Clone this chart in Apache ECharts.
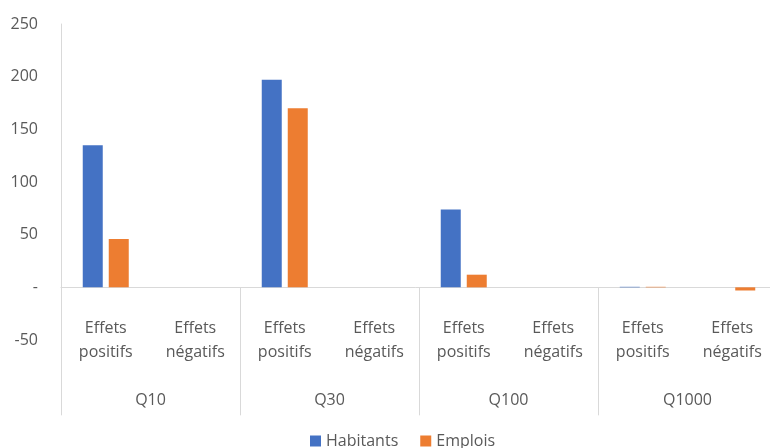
<!DOCTYPE html>
<html>
<head>
<meta charset="utf-8">
<script src="https://cdn.jsdelivr.net/npm/echarts@6/dist/echarts.min.js"></script>
<style>
  html, body { margin: 0; padding: 0; background: #ffffff; }
  #chart { width: 770px; height: 448px; }
</style>
</head>
<body>
<div id="chart"></div>
<script>
// Groupes de scénarios et sous-catégories d'effets
const groups = ['Q10', 'Q30', 'Q100', 'Q1000'];
const effects = ['Effets\npositifs', 'Effets\nnégatifs'];
const categories = groups.flatMap(g => effects.map(e => g + '|' + e));

// Valeurs par série (positifs / négatifs pour chaque groupe)
const habitants = [135, 0, 197, 0, 74, 0, 0.5, 0];
const emplois   = [46, 0, 170, 0, 12, 0, 0.5, -3];

// Graduations de l'axe vertical
const yMin = -50, yMax = 250, yStep = 50;

const font = '"Open Sans", Lato, sans-serif';
const textColor = '#595959';
const lineColor = '#d9d9d9';

// Zone de tracé
const gridLeft = 61, gridTop = 24, gridWidth = 716, gridHeight = 316;
// Les axes des catégories passent par la valeur 0 : décalage depuis le bas de la zone
const zeroShift = -gridHeight * (0 - yMin) / (yMax - yMin);

const chart = echarts.init(document.getElementById('chart'), null, { renderer: 'canvas' });

chart.setOption({
  animation: false,
  backgroundColor: '#ffffff',
  textStyle: { fontFamily: font },
  grid: {
    left: gridLeft, top: gridTop, width: gridWidth, height: gridHeight,
    containLabel: false, outerBoundsMode: 'none'
  },
  legend: {
    left: 305,
    top: 428,
    itemWidth: 11,
    itemHeight: 11,
    itemGap: 22,
    icon: 'rect',
    textStyle: { fontFamily: font, fontSize: 16, color: textColor },
    data: ['Habitants', 'Emplois']
  },
  xAxis: [
    {
      type: 'category',
      data: categories,
      position: 'bottom',
      offset: zeroShift,
      axisLine: { onZero: false, lineStyle: { color: lineColor, width: 1 } },
      axisTick: { show: false },
      axisLabel: {
        interval: 0,
        margin: 29,
        fontFamily: font,
        fontSize: 16,
        lineHeight: 24,
        color: textColor,
        formatter: v => v.split('|')[1]
      }
    },
    {
      type: 'category',
      data: groups,
      position: 'bottom',
      offset: zeroShift,
      axisLine: { show: false, onZero: false },
      axisTick: { show: true, interval: 0, length: 128, lineStyle: { color: lineColor, width: 1 } },
      axisLabel: { interval: 0, margin: 105, fontFamily: font, fontSize: 16, color: textColor },
      splitLine: { show: false }
    }
  ],
  yAxis: {
    type: 'value',
    min: yMin,
    max: yMax,
    interval: yStep,
    axisLine: { show: true, lineStyle: { color: lineColor, width: 1 } },
    axisTick: { show: false },
    splitLine: { show: false },
    axisLabel: {
      margin: 23,
      fontFamily: font,
      fontSize: 16,
      color: textColor,
      formatter: v => (v === 0 ? '-' : String(v))
    }
  },
  series: [
    {
      name: 'Habitants',
      type: 'bar',
      xAxisIndex: 0,
      data: habitants,
      barWidth: 20,
      barGap: '30%',
      itemStyle: { color: '#4472C4' }
    },
    {
      name: 'Emplois',
      type: 'bar',
      xAxisIndex: 0,
      data: emplois,
      barWidth: 20,
      barGap: '30%',
      itemStyle: { color: '#ED7D31' }
    }
  ]
});
</script>
</body>
</html>
